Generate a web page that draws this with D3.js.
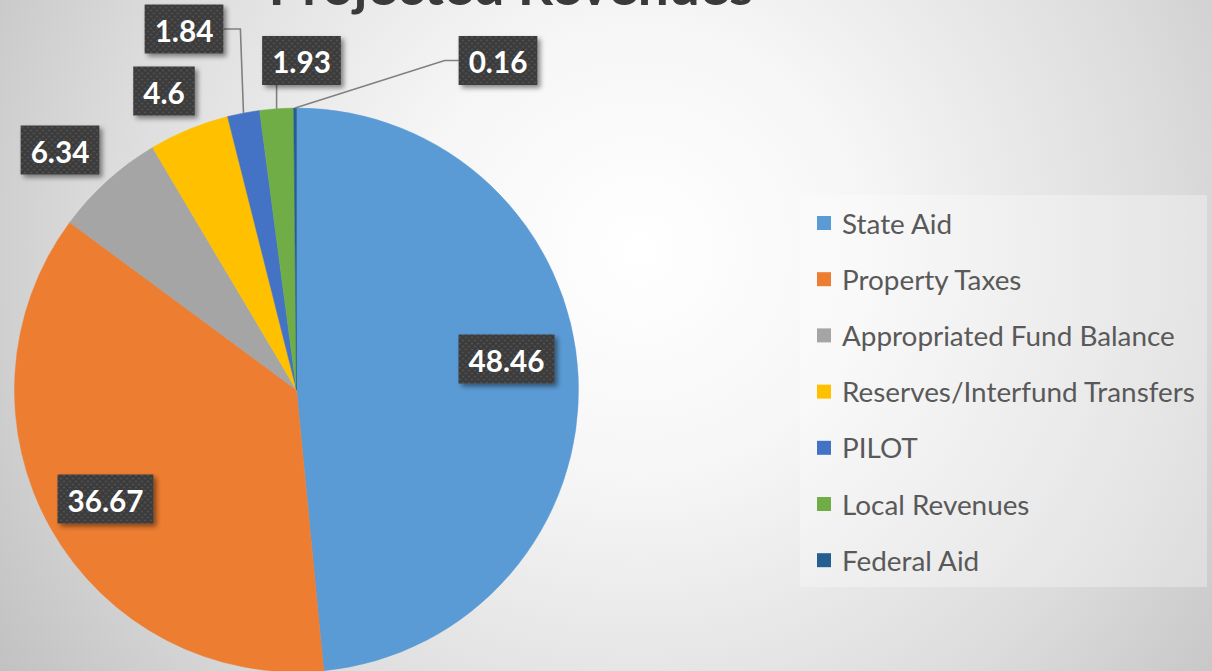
<!DOCTYPE html>
<html>
<head>
<meta charset="utf-8">
<script src="https://cdn.jsdelivr.net/npm/d3@7/dist/d3.min.js"></script>
<style>
  html, body { margin: 0; padding: 0; overflow: hidden; }
  svg { display: block; }
</style>
</head>
<body>
<svg id="chart" width="1212" height="671"></svg>
<script>
// ---- data ----
const categories = ["State Aid", "Property Taxes", "Appropriated Fund Balance",
  "Reserves/Interfund Transfers", "PILOT", "Local Revenues", "Federal Aid"];
const values = [48.46, 36.67, 6.34, 4.6, 1.84, 1.93, 0.16];
const labelTexts = ["48.46", "36.67", "6.34", "4.6", "1.84", "1.93", "0.16"];
const colors = ["#5B9BD5", "#ED7D31", "#A5A5A5", "#FFC000", "#4472C4", "#70AD47", "#255E91"];
const title = "Projected Revenues";

// ---- layout (label box centres, offsets from pie centre; manual placement as in original) ----
const labelOffsets = [[210, -31], [-191, 109], [-236.5, -240], [-132.5, -299], [-112.5, -361], [5, -329.5], [201.5, -329.5]];
const hasLeader = [false, false, false, false, true, true, true];

const W = 1212, H = 671;
const cx = 296.5, cy = 390, R = 282;

const svg = d3.select("#chart");
const defs = svg.append("defs");

// background radial gradient
const bg = defs.append("radialGradient").attr("id", "bg")
  .attr("gradientUnits", "userSpaceOnUse")
  .attr("cx", 640).attr("cy", 250).attr("r", 760);
bg.append("stop").attr("offset", "0").attr("stop-color", "#ffffff");
bg.append("stop").attr("offset", "0.3").attr("stop-color", "#f6f6f6");
bg.append("stop").attr("offset", "0.7").attr("stop-color", "#dcdcdc");
bg.append("stop").attr("offset", "1").attr("stop-color", "#c2c2c2");
svg.append("rect").attr("width", W).attr("height", H).attr("fill", "url(#bg)");

// dotted pattern for label boxes
const pat = defs.append("pattern").attr("id", "dots").attr("patternUnits", "userSpaceOnUse")
  .attr("width", 6).attr("height", 6);
pat.append("rect").attr("width", 6).attr("height", 6).attr("fill", "#3b3b3b");
pat.append("circle").attr("cx", 1.5).attr("cy", 1.5).attr("r", 0.9).attr("fill", "#5a5a5a");
pat.append("circle").attr("cx", 4.5).attr("cy", 4.5).attr("r", 0.9).attr("fill", "#5a5a5a");

const shadow = defs.append("filter").attr("id", "shadow")
  .attr("x", "-30%").attr("y", "-30%").attr("width", "170%").attr("height", "170%");
shadow.append("feDropShadow").attr("dx", 3).attr("dy", 3).attr("stdDeviation", 2.5)
  .attr("flood-color", "#000").attr("flood-opacity", 0.45);

// helper: fit font size so that text has target width
function fitFont(sel, target) {
  const len = sel.node().getComputedTextLength();
  const fs = parseFloat(sel.attr("font-size"));
  sel.attr("font-size", fs * target / len);
  return fs * target / len;
}

// title
const t = svg.append("text").text(title)
  .attr("x", 511).attr("y", 5).attr("text-anchor", "middle")
  .attr("font-family", "Lato, 'Open Sans', sans-serif").attr("font-weight", "bold")
  .attr("font-size", 48).attr("fill", "#3a3a3a");
fitFont(t, 485);

// pie
const pie = d3.pie().sort(null).value(d => d).startAngle(0).endAngle(2 * Math.PI);
const arcs = pie(values);
const arc = d3.arc().innerRadius(0).outerRadius(R);
const g = svg.append("g").attr("transform", `translate(${cx},${cy})`);
g.selectAll("path").data(arcs).join("path")
  .attr("d", arc).attr("fill", (d, i) => colors[i])
  .attr("stroke", (d, i) => colors[i]).attr("stroke-width", 0.5);

// labels
const labelFamily = "Lato, 'Open Sans', sans-serif";
// determine font size from a reference label
const probe = svg.append("text").text("48.46").attr("font-family", labelFamily)
  .attr("font-weight", "bold").attr("font-size", 30);
const labelFs = fitFont(probe, 76);
probe.remove();

const boxH = 49;
const lg = g.append("g");
arcs.forEach((a, i) => {
  const [ox, oy] = labelOffsets[i];
  const txt = lg.append("text").text(labelTexts[i])
    .attr("font-family", labelFamily).attr("font-weight", "bold")
    .attr("font-size", labelFs).attr("fill", "#ffffff")
    .attr("text-anchor", "middle").attr("dominant-baseline", "central")
    .attr("x", ox).attr("y", oy + 1);
  const tw = txt.node().getComputedTextLength();
  const bw = tw + 20;
  const bx0 = ox - bw / 2, bx1 = ox + bw / 2, by0 = oy - boxH / 2, by1 = oy + boxH / 2;

  if (hasLeader[i]) {
    const mid = (a.startAngle + a.endAngle) / 2;
    const ex = R * Math.sin(mid), ey = -R * Math.cos(mid);
    let pts;
    if (ex >= bx0 && ex <= bx1) {
      pts = [[ex, ey], [ex, by1]];
    } else if (ex > bx1) {
      pts = [[ex, ey], [bx1 + 15, oy], [bx1, oy]];
      if (ex - bx1 < 40) pts = [[ex, ey], [bx1 + 17, oy], [bx1, oy]];
    } else {
      pts = [[ex, ey], [bx0 - 14, oy], [bx0, oy]];
    }
    lg.insert("path", "text").attr("d", d3.line()(pts))
      .attr("fill", "none").attr("stroke", "#808080").attr("stroke-width", 1.6);
  }
  lg.insert("rect", "text")
    .attr("x", bx0).attr("y", by0).attr("width", bw).attr("height", boxH)
    .attr("fill", "url(#dots)").attr("filter", "url(#shadow)");
});
// move texts above rects (ensure order)
lg.selectAll("text").raise();

// legend
const legend = svg.append("g");
legend.append("rect").attr("x", 800).attr("y", 195).attr("width", 407).attr("height", 392)
  .attr("fill", "#ffffff").attr("fill-opacity", 0.3);
const legendFamily = "Lato, 'Open Sans', sans-serif";
const lprobe = svg.append("text").text("Reserves/Interfund Transfers")
  .attr("font-family", legendFamily).attr("font-size", 24);
const legendFs = fitFont(lprobe, 353);
lprobe.remove();
categories.forEach((c, i) => {
  const yy = 223 + i * 56.2;
  legend.append("rect").attr("x", 817).attr("y", yy - 7).attr("width", 14).attr("height", 14)
    .attr("fill", colors[i]);
  legend.append("text").text(c).attr("x", 842).attr("y", yy)
    .attr("dominant-baseline", "central")
    .attr("font-family", legendFamily).attr("font-size", legendFs).attr("fill", "#595959");
});
</script>
</body>
</html>
